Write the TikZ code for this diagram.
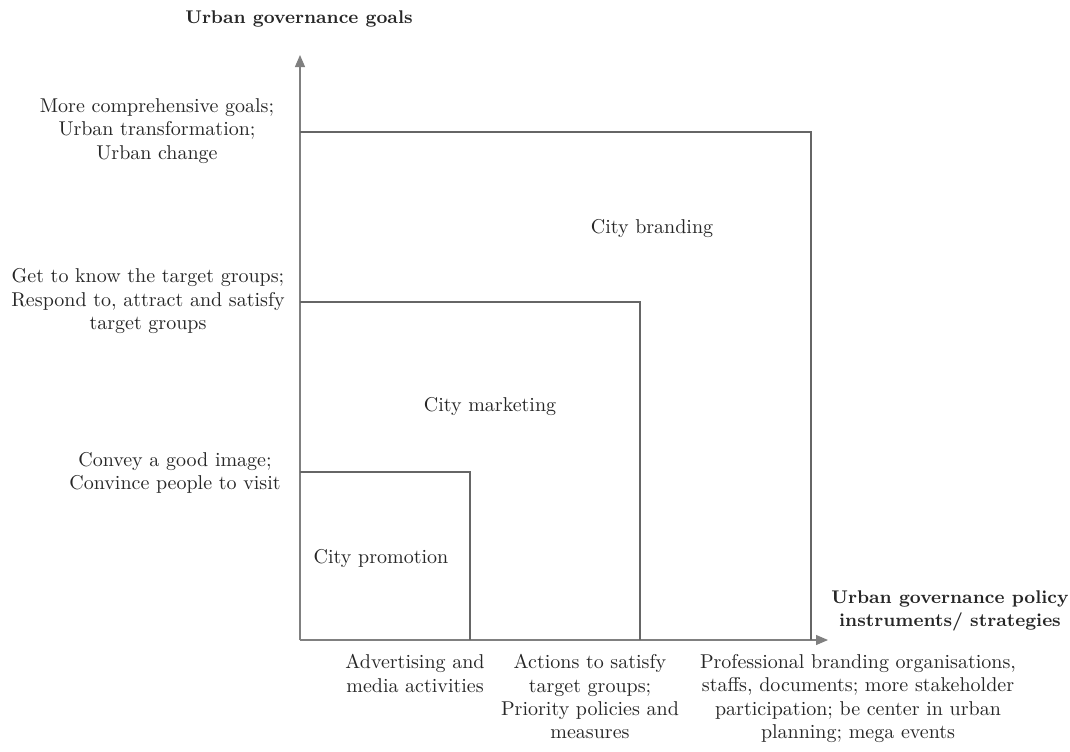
\documentclass[tikz,border=0pt]{standalone}
\usepackage{tikz}
\usetikzlibrary{arrows.meta}

\begin{document}
\begin{tikzpicture}[x=0.5pt, y=-0.5pt,
        lbl/.style = {align=center, text=black!85, font=\fontsize{10}{11.7}\selectfont, inner sep=0pt},
        head/.style = {lbl, font=\fontsize{9.2}{11.7}\selectfont\bfseries},
        axis/.style = {draw=black!50, line width=0.6pt, -{Triangle[length=6pt, width=5pt]}},
        box/.style = {draw=black!60, line width=0.6pt}]
    \useasboundingbox (0,0) rectangle (1070,751);

    % axes
    \coordinate (o) at (300,640);
    \coordinate (ytop) at (300,55);
    \coordinate (xend) at (828,640);
    \draw[axis] (o) -- (ytop);
    \draw[axis] (o) -- (xend);

    % nested levels
    \draw[box] (300,472) -| (470,640);
    \draw[box] (300,302) -| (640,640);
    \draw[box] (300,132) -| (811,640);

    \node[lbl] (promo) at (381,558) {City promotion};
    \node[lbl] (mark) at (490,406) {City marketing};
    \node[lbl] (brand) at (652,229) {City branding};

    % goals
    \node[head] (ylab) at (299,19) {Urban governance goals};
    \node[lbl] (g3) at (157,131) {More comprehensive goals;\\Urban transformation;\\Urban change};
    \node[lbl] (g2) at (148,301) {Get to know the target groups;\\Respond to, attract and satisfy\\target groups};
    \node[lbl] (g1) at (175,473) {Convey a good image;\\Convince people to visit};

    % instruments
    \node[head] (xlab) at (950,611) {Urban governance policy\\instruments/ strategies};
    \node[lbl, anchor=north] (s1) at (415,654) {Advertising and\\media activities};
    \node[lbl, anchor=north] (s2) at (590,654) {Actions to satisfy\\target groups;\\Priority policies and\\measures};
    \node[lbl, anchor=north] (s3) at (858,654) {Professional branding organisations,\\staffs, documents; more stakeholder\\participation; be center in urban\\planning; mega events};
\end{tikzpicture}
\end{document}
